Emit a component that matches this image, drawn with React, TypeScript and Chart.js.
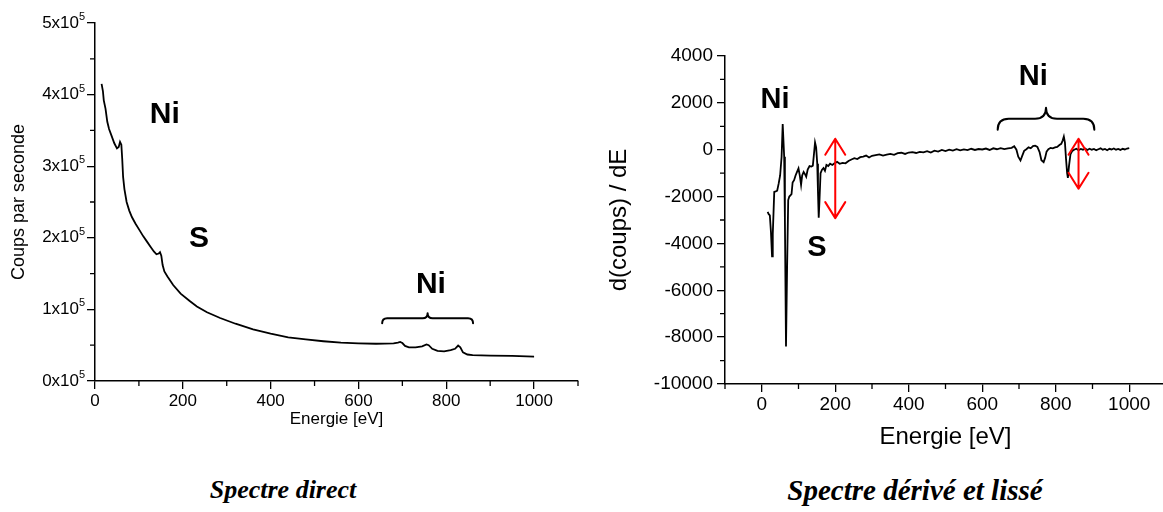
import React, { useEffect, useRef } from 'react';
import { Chart, registerables } from 'chart.js';

Chart.register(...registerables);

// ---------- Data: direct spectrum (counts per second vs energy) ----------
const directEnergy = [
  15, 18, 20, 24, 28, 32, 38, 44, 50, 54, 57, 60, 62, 64, 67, 72, 78, 84, 92, 102,
  110, 118, 126, 134, 140, 145, 148, 151, 154, 158, 165, 178, 195, 215, 232, 255, 285, 320, 360, 400,
  440, 480, 520, 560, 600, 640, 680, 690, 695, 700, 706, 715, 730, 745, 755, 760, 768, 780, 795, 810,
  820, 827, 832, 838, 848, 860, 900, 950, 1000,
];
const directCounts = [
  415000, 405000, 392000, 380000, 362000, 352000, 342000, 332000, 325000, 327000, 334000, 330000, 310000, 285000, 268000, 250000, 238000, 229000, 220000, 210000,
  202000, 195000, 188000, 181000, 177000, 178000, 180000, 175000, 162000, 153000, 146000, 134000, 122000, 112000, 104000, 96000, 88000, 80000, 72000, 66000,
  61000, 58000, 55500, 53500, 52500, 52000, 52500, 53500, 54500, 53000, 49000, 47000, 47000, 48500, 51000, 50000, 45000, 42000, 41500, 43000,
  45000, 49500, 47000, 40000, 37000, 36000, 35500, 35000, 34000,
];

// ---------- Data: derived & smoothed spectrum ----------
const derivEnergy = [
  16, 19, 22, 25, 28, 30, 32, 34, 38, 42, 46, 50, 54, 57, 59, 61, 63, 66, 69, 72,
  75, 78, 81, 84, 88, 92, 96, 100, 104, 107, 110, 114, 118, 121, 125, 130, 135, 139, 142, 145,
  148, 151, 153, 155, 157, 160, 164, 168, 172, 176, 181, 186, 192, 198, 205, 212, 220, 228, 236, 244,
  252, 260, 268, 276, 284, 292, 300, 310, 320, 330, 340, 350, 360, 370, 380, 390, 400, 410, 420, 430,
  440, 450, 460, 470, 480, 490, 500, 510, 520, 530, 540, 550, 560, 570, 580, 590, 600, 610, 620, 630,
  640, 650, 660, 670, 680, 687, 693, 698, 704, 709, 714, 720, 726, 732, 738, 744, 750, 756, 761, 767,
  771, 775, 780, 786, 792, 798, 804, 810, 815, 819, 822, 825, 828, 831, 833, 836, 840, 845, 850, 856,
  862, 868, 874, 880, 886, 892, 898, 904, 910, 916, 922, 928, 934, 940, 946, 952, 958, 964, 970, 976,
  982, 988, 994, 1000,
];
const derivValues = [
  -2650, -2750, -2800, -3500, -4550, -3600, -2700, -1800, -1780, -1750, -1450, -1100, -300, 1100, 400, -300, -3000, -8400, -5000, -2150,
  -2000, -1950, -1900, -1400, -1300, -1100, -950, -800, -1150, -1500, -1100, -950, -1050, -1150, -850, -700, -720, -680, -200, 310,
  100, -600, -1800, -2900, -2200, -1000, -850, -780, -900, -650, -700, -600, -650, -580, -520, -600, -560, -580, -480, -420,
  -360, -400, -320, -290, -250, -330, -260, -230, -200, -250, -210, -180, -220, -150, -130, -180, -120, -100, -140, -90,
  -110, -60, -120, -40, -80, -10, -60, 0, -40, 20, -30, 10, -20, 40, -10, 30, 10, 50, -10, 60,
  20, 70, 30, 60, 80, 150, 0, -300, -460, -250, -50, 20, 100, 60, 150, 170, 120, -100, -450, -530,
  -350, -80, 20, 80, 60, 100, 120, 200, 250, 400, 560, 300, -400, -1000, -1200, -700, -200, -50, 0, 40,
  -20, 30, 0, 50, -10, 40, 0, 30, -20, 20, 60, 0, 30, -20, 40, 10, 50, 0, 30, -10,
  40, 10, 50, 70,
];

// ---------- Ticks ----------
const directXTicks = [0, 200, 400, 600, 800, 1000];
const directXMinor = [100, 300, 500, 700, 900, 1100];
const directYTicks = [0, 100000, 200000, 300000, 400000, 500000];
const directYTickLabels = ['0x10', '1x10', '2x10', '3x10', '4x10', '5x10'];
const directYTickExponent = '5';
const directYMinor = [50000, 150000, 250000, 350000, 450000];

const derivXTicks = [0, 200, 400, 600, 800, 1000];
const derivXMinor = [-100, 100, 300, 500, 700, 900, 1100];
const derivYTicks = [-10000, -8000, -6000, -4000, -2000, 0, 2000, 4000];
const derivYMinor = [-9000, -7000, -5000, -3000, -1000, 1000, 3000];

// ---------- Annotations (data coordinates) ----------
const directNotes = [
  { text: 'Ni', x: 159, y: 372000 },
  { text: 'S', x: 237, y: 199000 },
  { text: 'Ni', x: 765, y: 134000 },
];
const directBraces = [{ x1: 654, x2: 861, y: 87700 }];

const derivNotes = [
  { text: 'Ni', x: 36, y: 2140 },
  { text: 'S', x: 150, y: -4190 },
  { text: 'Ni', x: 739, y: 3120 },
];
const derivBraces = [{ x1: 642, x2: 905, y: 1325 }];
const derivArrows = [
  { x: 200, y1: 470, y2: -2920 },
  { x: 862, y1: 470, y2: -1667 },
];

const SANS = '"Liberation Sans", Arial, Helvetica, sans-serif';

type Decor = {
  notes: { text: string; x: number; y: number }[];
  braces: { x1: number; x2: number; y: number }[];
  arrows: { x: number; y1: number; y2: number }[];
  xMinor: number[];
  yMinor: number[];
  braceDepth: number;
  noteSize: number;
  yExponent?: { text: string; ticks: number[]; size: number; gap: number };
};

function makeDecorPlugin(d: Decor) {
  return {
    id: 'decor',
    afterDraw(chart: any) {
      const ctx = chart.ctx as CanvasRenderingContext2D;
      const xs = chart.scales.x;
      const ys = chart.scales.y;
      const area = chart.chartArea;
      ctx.save();
      // minor ticks
      ctx.strokeStyle = '#000';
      ctx.lineWidth = 1.3;
      ctx.beginPath();
      d.xMinor.forEach((v) => {
        const px = xs.getPixelForValue(v);
        ctx.moveTo(px, area.bottom);
        ctx.lineTo(px, area.bottom + 5);
      });
      d.yMinor.forEach((v) => {
        const py = ys.getPixelForValue(v);
        ctx.moveTo(area.left - 5, py);
        ctx.lineTo(area.left, py);
      });
      ctx.stroke();

      // superscript exponents on y tick labels
      if (d.yExponent) {
        const e = d.yExponent;
        ctx.fillStyle = '#000';
        ctx.font = `${e.size}px ${SANS}`;
        ctx.textAlign = 'left';
        ctx.textBaseline = 'middle';
        e.ticks.forEach((v) => {
          const py = ys.getPixelForValue(v);
          ctx.fillText(e.text, area.left - e.gap, py - 6);
        });
      }

      // text notes
      ctx.fillStyle = '#000';
      ctx.font = `bold ${d.noteSize}px ${SANS}`;
      ctx.textAlign = 'center';
      ctx.textBaseline = 'middle';
      d.notes.forEach((n) => {
        ctx.fillText(n.text, xs.getPixelForValue(n.x), ys.getPixelForValue(n.y));
      });

      // braces
      ctx.lineWidth = 2;
      ctx.lineJoin = 'round';
      ctx.lineCap = 'round';
      d.braces.forEach((b) => {
        const x1 = xs.getPixelForValue(b.x1);
        const x2 = xs.getPixelForValue(b.x2);
        const y = ys.getPixelForValue(b.y);
        const xm = (x1 + x2) / 2;
        const h = d.braceDepth;
        const r = h;
        ctx.beginPath();
        ctx.moveTo(x1, y + h);
        ctx.quadraticCurveTo(x1, y, x1 + r, y);
        ctx.lineTo(xm - r, y);
        ctx.quadraticCurveTo(xm, y, xm, y - h);
        ctx.quadraticCurveTo(xm, y, xm + r, y);
        ctx.lineTo(x2 - r, y);
        ctx.quadraticCurveTo(x2, y, x2, y + h);
        ctx.stroke();
      });

      // red double arrows
      ctx.strokeStyle = '#ff0000';
      ctx.lineWidth = 2;
      d.arrows.forEach((a) => {
        const x = xs.getPixelForValue(a.x);
        const yt = ys.getPixelForValue(a.y1);
        const yb = ys.getPixelForValue(a.y2);
        ctx.beginPath();
        ctx.moveTo(x, yt);
        ctx.lineTo(x, yb);
        ctx.moveTo(x - 10, yt + 16);
        ctx.lineTo(x, yt);
        ctx.lineTo(x + 10, yt + 16);
        ctx.moveTo(x - 10, yb - 16);
        ctx.lineTo(x, yb);
        ctx.lineTo(x + 10, yb - 16);
        ctx.stroke();
      });
      ctx.restore();
    },
  };
}

function axisCommon(tickSize: number) {
  return {
    type: 'linear' as const,
    grid: { drawOnChartArea: false, drawTicks: true, tickLength: 8, color: '#000', lineWidth: 1.3 },
    border: { display: true, color: '#000', width: 1.5 },
    ticks: {
      color: '#000',
      font: { family: SANS, size: tickSize },
      autoSkip: false,
      maxRotation: 0,
      callback: (v: any) => String(v),
    },
  };
}

function DirectChart() {
  const ref = useRef<HTMLCanvasElement | null>(null);
  useEffect(() => {
    if (!ref.current) return;
    const base = axisCommon(17);
    const chart = new Chart(ref.current, {
      type: 'line',
      data: {
        datasets: [
          {
            data: directEnergy.map((e, i) => ({ x: e, y: directCounts[i] })),
            borderColor: '#000',
            borderWidth: 1.8,
            pointRadius: 0,
            fill: false,
            tension: 0,
          },
        ],
      },
      options: {
        responsive: false,
        animation: false,
        events: [],
        layout: { padding: { top: 23, right: 12, left: 0, bottom: 0 } },
        plugins: { legend: { display: false }, tooltip: { enabled: false } },
        scales: {
          x: {
            ...base,
            min: 0,
            max: 1100,
            afterBuildTicks: (s: any) => {
              s.ticks = directXTicks.map((v) => ({ value: v }));
            },
            afterFit: (s: any) => {
              s.height = 59;
            },
            ticks: { ...base.ticks, padding: 2 },
            title: {
              display: true,
              text: 'Energie [eV]',
              color: '#000',
              font: { family: SANS, size: 17 },
              padding: { top: 0, bottom: 10 },
            },
          },
          y: {
            ...base,
            min: 0,
            max: 500000,
            afterBuildTicks: (s: any) => {
              s.ticks = directYTicks.map((v) => ({ value: v }));
            },
            afterFit: (s: any) => {
              s.width = 95;
            },
            ticks: {
              ...base.ticks,
              padding: 8,
              callback: (v: any) => directYTickLabels[directYTicks.indexOf(Number(v))],
            },
            title: {
              display: true,
              text: 'Coups par seconde',
              color: '#000',
              font: { family: SANS, size: 18 },
              padding: { top: 8, bottom: 0 },
            },
          },
        },
      } as any,
      plugins: [
        makeDecorPlugin({
          notes: directNotes,
          braces: directBraces,
          arrows: [],
          xMinor: directXMinor,
          yMinor: directYMinor,
          braceDepth: 5,
          noteSize: 30,
          yExponent: { text: directYTickExponent, ticks: directYTicks, size: 11, gap: 16 },
        }),
      ],
    });
    return () => chart.destroy();
  }, []);
  return <canvas ref={ref} width={590} height={440} style={{ display: 'block' }} />;
}

function DerivChart() {
  const ref = useRef<HTMLCanvasElement | null>(null);
  useEffect(() => {
    if (!ref.current) return;
    const base = axisCommon(19);
    const chart = new Chart(ref.current, {
      type: 'line',
      data: {
        datasets: [
          {
            data: derivEnergy.map((e, i) => ({ x: e, y: derivValues[i] })),
            borderColor: '#000',
            borderWidth: 1.8,
            pointRadius: 0,
            fill: false,
            tension: 0,
          },
        ],
      },
      options: {
        responsive: false,
        animation: false,
        events: [],
        layout: { padding: { top: 56, right: 2, left: 0, bottom: 0 } },
        plugins: { legend: { display: false }, tooltip: { enabled: false } },
        scales: {
          x: {
            ...base,
            min: -100,
            max: 1100,
            afterBuildTicks: (s: any) => {
              s.ticks = derivXTicks.map((v) => ({ value: v }));
            },
            afterFit: (s: any) => {
              s.height = 76;
            },
            ticks: { ...base.ticks, padding: 1 },
            title: {
              display: true,
              text: 'Energie [eV]',
              color: '#000',
              font: { family: SANS, size: 24 },
              padding: { top: 0, bottom: 8 },
            },
          },
          y: {
            ...base,
            min: -10000,
            max: 4000,
            afterBuildTicks: (s: any) => {
              s.ticks = derivYTicks.map((v) => ({ value: v }));
            },
            afterFit: (s: any) => {
              s.width = 135;
            },
            ticks: { ...base.ticks, padding: 4 },
            title: {
              display: true,
              text: 'd(coups) / dE',
              color: '#000',
              font: { family: SANS, size: 24 },
              padding: { top: 15, bottom: 0 },
            },
          },
        },
      } as any,
      plugins: [
        makeDecorPlugin({
          notes: derivNotes,
          braces: derivBraces,
          arrows: derivArrows,
          xMinor: derivXMinor,
          yMinor: derivYMinor,
          braceDepth: 11,
          noteSize: 29,
        }),
      ],
    });
    return () => chart.destroy();
  }, []);
  return <canvas ref={ref} width={578} height={460} style={{ display: 'block' }} />;
}

const captionStyle: React.CSSProperties = {
  position: 'absolute',
  top: 474,
  lineHeight: '32px',
  textAlign: 'center',
  fontFamily: '"Liberation Serif", "Times New Roman", serif',
  fontWeight: 'bold',
  fontStyle: 'italic',
  color: '#000',
  whiteSpace: 'nowrap',
};

export default function App() {
  return (
    <div
      style={{
        position: 'fixed',
        left: 0,
        top: 0,
        width: 1163,
        height: 512,
        overflow: 'hidden',
        background: '#fff',
      }}
    >
      <div style={{ position: 'absolute', left: 0, top: 0 }}>
        <DirectChart />
      </div>
      <div style={{ position: 'absolute', left: 590, top: 0 }}>
        <DerivChart />
      </div>
      <div style={{ ...captionStyle, fontSize: 26, left: 0, width: 566 }}>Spectre direct</div>
      <div style={{ ...captionStyle, fontSize: 29, left: 665, width: 500 }}>Spectre dérivé et lissé</div>
    </div>
  );
}
